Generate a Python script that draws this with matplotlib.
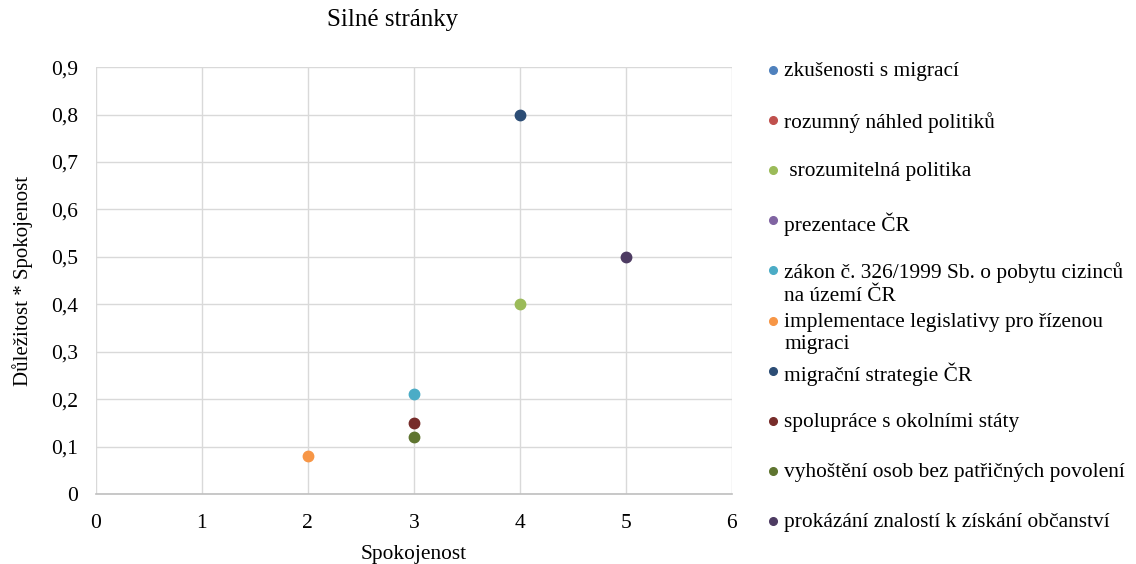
import numpy as np
import matplotlib.pyplot as plt

plt.rcParams['font.family'] = ['Liberation Serif', 'DejaVu Serif']

# data: Spokojenost (x), Důležitost * Spokojenost (y)
labels = [
    "zkušenosti s migrací",
    "rozumný náhled politiků",
    " srozumitelná politika",
    "prezentace ČR",
    "zákon č. 326/1999 Sb. o pobytu cizinců\nna území ČR",
    "implementace legislativy pro řízenou\nmigraci",
    "migrační strategie ČR",
    "spolupráce s okolními státy",
    "vyhoštění osob bez patřičných povolení",
    "prokázání znalostí k získání občanství",
]
x_vals = [np.nan, np.nan, 4, np.nan, 3, 2, 4, 3, 3, 5]
y_vals = [np.nan, np.nan, 0.4, np.nan, 0.21, 0.08, 0.8, 0.15, 0.12, 0.5]
colors = ["#4F81BD", "#C0504D", "#9BBB59", "#8064A2", "#4BACC6",
          "#F79646", "#2C4D75", "#772C2A", "#5F7530", "#4D3B62"]
x_ticks = [0, 1, 2, 3, 4, 5, 6]
y_ticks = [0, 0.1, 0.2, 0.3, 0.4, 0.5, 0.6, 0.7, 0.8, 0.9]

fig = plt.figure(figsize=(11.36, 5.64), dpi=100)
ax = fig.add_axes([0.0845, 0.124, 0.5595, 0.757])

for xv, yv, c, lab in zip(x_vals, y_vals, colors, labels):
    ax.plot([xv], [yv], "o", color=c, markersize=7.5, label=lab, zorder=3)

ax.set_xlim(0, 6)
ax.set_ylim(0, 0.9)
ax.set_xticks(x_ticks)
ax.set_yticks(y_ticks)
ax.set_xticklabels([str(t) for t in x_ticks])
ax.set_yticklabels([("%.1f" % t).replace(".", ",") if t else "0" for t in y_ticks])
ax.grid(True, color="#D9D9D9", linewidth=1)
ax.set_axisbelow(True)
for s in ["top", "right", "left"]:
    ax.spines[s].set_visible(False)
ax.spines["bottom"].set_color("#BFBFBF")
ax.spines["bottom"].set_linewidth(1.2)
ax.tick_params(length=0, labelsize=15.5)
ax.tick_params(axis="x", pad=14)
ax.tick_params(axis="y", pad=13)

fig.text(393 / 1136, 1 - 20 / 564, "Silné stránky", fontsize=18, ha="center", va="center")
ax.set_xlabel("Spokojenost", fontsize=15.4, labelpad=9)
ax.set_ylabel("Důležitost * Spokojenost", fontsize=15, labelpad=13)

# legenda vpravo - pevné rozestupy jako v Excelu
lax = fig.add_axes([0.0, 0.0, 1.0, 1.0])
lax.set_xlim(0, 1136)
lax.set_ylim(564, 0)
lax.axis("off")
for i, (c, lab) in enumerate(zip(colors, labels)):
    ypos = 70 + i * 50.1
    lax.plot([773], [ypos], "o", color=c, markersize=5.5)
    lax.text(784, ypos - 8, lab, fontsize=15.4, va="top",
             ha="left", linespacing=1.25)

fig.savefig("out.png", dpi=100)
